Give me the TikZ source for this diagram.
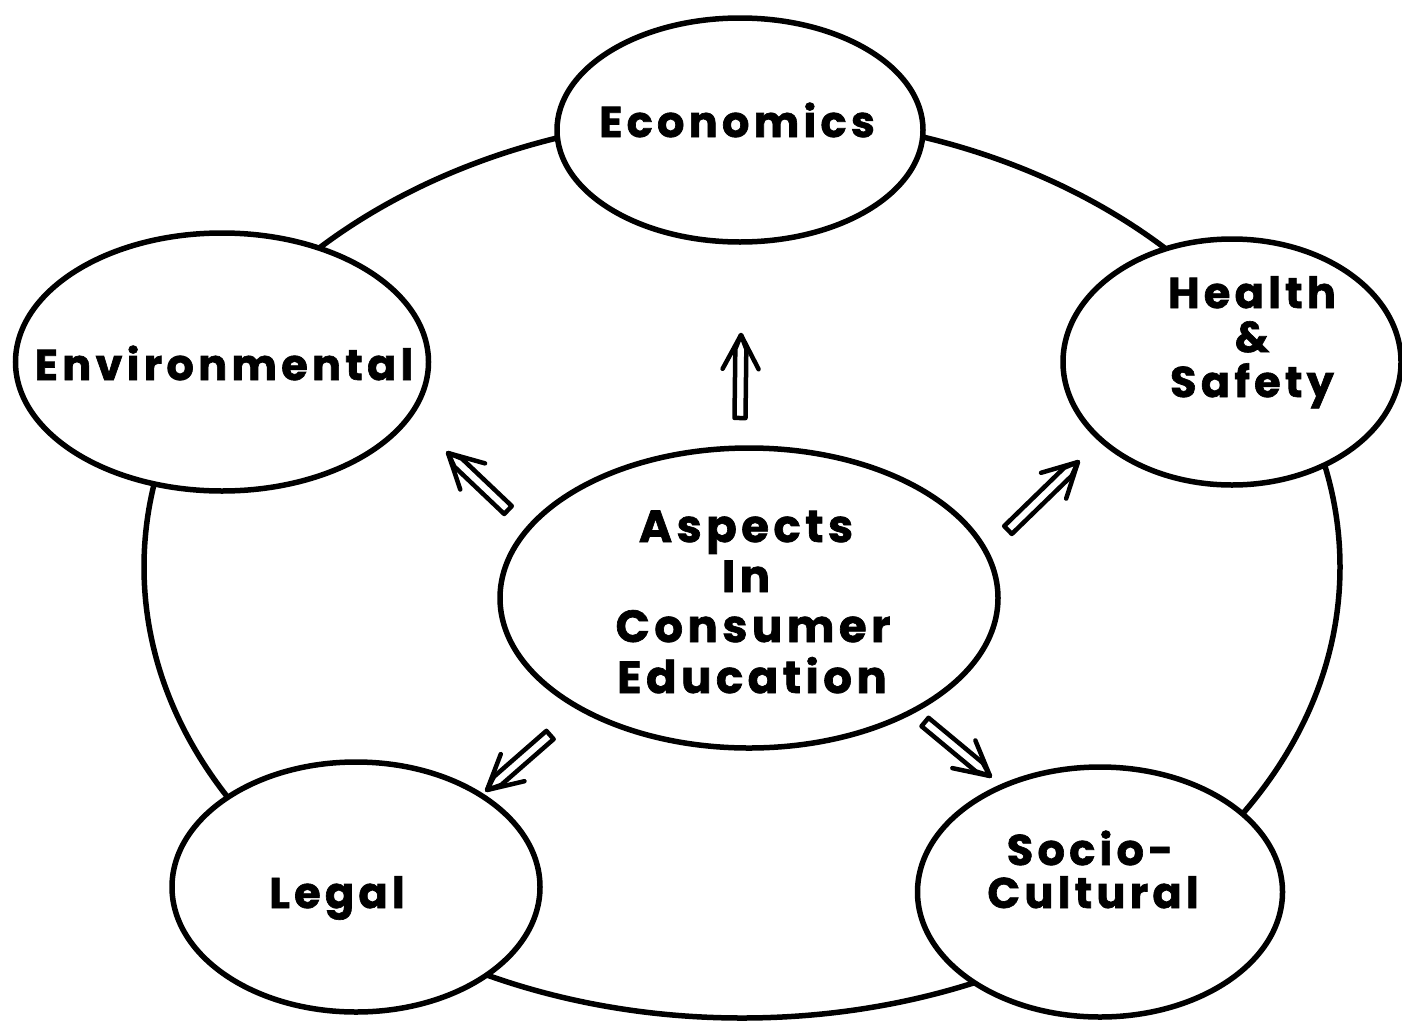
\documentclass[tikz,border=0pt]{standalone}
\usepackage{fontspec}
\setmainfont{Poppins}[LetterSpace=10, BoldFeatures={FakeBold=1.5}]
\usetikzlibrary{shapes.geometric,calc}
\tikzset{
  sat/.style={ellipse, draw, line width=5.5pt, fill=white, inner sep=0pt},
  lbl/.style={anchor=base, inner sep=0pt, font=\fontsize{43}{50}\selectfont\bfseries},
  clbl/.style={lbl, font=\fontsize{45}{50}\selectfont\bfseries},
  harrow/.style={line width=4.5pt, line join=round, line cap=round}
}
\newcommand\hollowarrow[2]{%
  \coordinate (hB1) at ($(#1)!5.5pt!90:(#2)$);
  \coordinate (hB2) at ($(#1)!5.5pt!-90:(#2)$);
  \coordinate (hS) at ($(#2)!14pt!(#1)$);
  \coordinate (hS1) at ($(hS)!5.5pt!90:(#2)$);
  \coordinate (hS2) at ($(hS)!5.5pt!-90:(#2)$);
  \coordinate (hH) at ($(#2)!34pt!(#1)$);
  \coordinate (hL) at ($(hH)!18pt!90:(#2)$);
  \coordinate (hR) at ($(hH)!18pt!-90:(#2)$);
  \draw[harrow] (#2) -- (hS1) -- (hB1) -- (hB2) -- (hS2) -- cycle;
  \draw[harrow] (hL) -- (#2) -- (hR);
}
\begin{document}
\begin{tikzpicture}[x=1pt,y=-1pt]
\useasboundingbox[fill=white] (0,0) rectangle (1402,1020);
% big ring
\node[ellipse, draw, line width=5.5pt, minimum width=1196pt, minimum height=902pt, inner sep=0pt] (ring) at (742,567) {};
% satellites
\node[sat, minimum width=366pt, minimum height=224pt] (econ) at (740,130) {};
\node[sat, minimum width=413pt, minimum height=258pt] (env) at (222,362) {};
\node[sat, minimum width=338pt, minimum height=246pt] (health) at (1232,362) {};
\node[sat, minimum width=368pt, minimum height=250pt] (legal) at (356,887) {};
\node[sat, minimum width=365pt, minimum height=250pt] (socio) at (1100,892) {};
\node[sat, minimum width=498pt, minimum height=300pt] (core) at (749,598) {};
% labels
\node[lbl] (tEcon) at (737,137) {Economics};
\node[lbl] (tEnv) at (224,380) {Environmental};
\node[lbl] (tHealth) at (1252,308) {Health};
\node[lbl] (tAmp) at (1252,352) {\&};
\node[lbl] (tSafety) at (1252,397) {Safety};
\node[lbl] (tLegal) at (337,908) {Legal};
\node[lbl] (tSocio) at (1090,865) {Socio-};
\node[lbl] (tCult) at (1093,908) {Cultural};
\node[clbl] (tAsp) at (746,542) {Aspects};
\node[clbl] (tIn) at (746,592) {In};
\node[clbl] (tCons) at (753,642) {Consumer};
\node[clbl] (tEdu) at (752,693) {Education};
% arrows
\coordinate (a1s) at (740,418); \coordinate (a1e) at (741,335);
\coordinate (a2s) at (508,510); \coordinate (a2e) at (448,453);
\coordinate (a3s) at (1008,530); \coordinate (a3e) at (1078,462);
\coordinate (a4s) at (550,735); \coordinate (a4e) at (487,790);
\coordinate (a5s) at (925,722); \coordinate (a5e) at (990,776);
\hollowarrow{a1s}{a1e}
\hollowarrow{a2s}{a2e}
\hollowarrow{a3s}{a3e}
\hollowarrow{a4s}{a4e}
\hollowarrow{a5s}{a5e}
\end{tikzpicture}
\end{document}
